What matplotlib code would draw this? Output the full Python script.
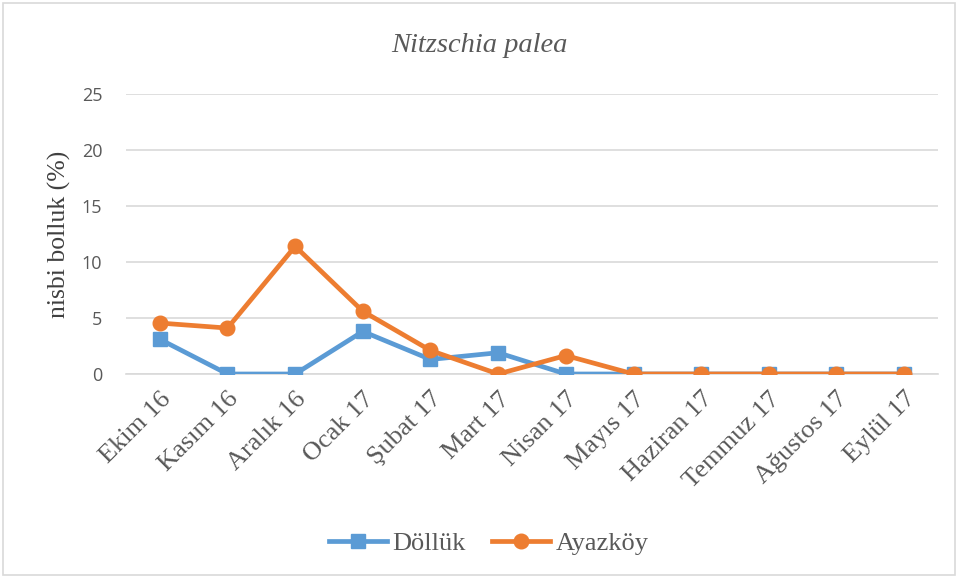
import matplotlib
matplotlib.use('Agg')
from matplotlib import pyplot as plt
from matplotlib.patches import Rectangle

#  data
months = ['Ekim 16', 'Kasım 16', 'Aralık 16', 'Ocak 17', 'Şubat 17', 'Mart 17',
          'Nisan 17', 'Mayıs 17', 'Haziran 17', 'Temmuz 17', 'Ağustos 17', 'Eylül 17']
dolluk = [3.1, 0, 0, 3.8, 1.3, 1.9, 0, 0, 0, 0, 0, 0]
ayazkoy = [4.55, 4.1, 11.4, 5.6, 2.1, 0, 1.65, 0, 0, 0, 0, 0]
yticks = [0, 5, 10, 15, 20, 25]

plt.rcParams['font.family'] = 'serif'
plt.rcParams['font.serif'] = ['Liberation Serif', 'DejaVu Serif']
txt = '#595959'

fig = plt.figure(figsize=(9.58, 5.78), dpi=100)
ax = fig.add_axes([126 / 958, 1 - 374 / 578, (938 - 126) / 958, (374 - 94) / 578])

x = list(range(len(months)))
ax.plot(x, dolluk, color='#5B9BD5', lw=3.4, marker='s', ms=10, label='Döllük', zorder=3)
ax.plot(x, ayazkoy, color='#ED7D31', lw=3.4, marker='o', ms=10.5, label='Ayazköy', zorder=4)

ax.set_xlim(-0.5, len(months) - 0.5)
ax.set_ylim(0, 25)
ax.set_yticks(yticks)
ax.set_yticklabels([str(v) for v in yticks], fontfamily='Open Sans', fontsize=13, color=txt)
ax.set_xticks(x)
ax.set_xticklabels(months, rotation=45, ha='right', rotation_mode='anchor',
                   fontsize=19, color=txt)
ax.tick_params(axis='both', length=0)
ax.tick_params(axis='x', pad=10)
ax.tick_params(axis='y', pad=17)
ax.grid(axis='y', color='#D9D9D9', lw=1.2)
ax.set_axisbelow(True)
for s in ['top', 'right', 'left']:
    ax.spines[s].set_visible(False)
ax.spines['bottom'].set_color('#D9D9D9')
ax.spines['bottom'].set_linewidth(1.2)
ax.set_ylabel('nisbi bolluk (%)', fontsize=18.5, color='#404040', labelpad=8)

fig.text(0.5, 1 - 45 / 578, 'Nitzschia palea', ha='center', va='center',
         fontsize=20.5, style='italic', color=txt)

fig.legend(loc='center', bbox_to_anchor=(0.5 + 10 / 958, 1 - 543 / 578), ncol=2, frameon=False,
           fontsize=19, labelcolor=txt,
           handlelength=2.2, columnspacing=1.0, handletextpad=0.2)

fig.patches.append(Rectangle((3 / 958, 3 / 578), 952 / 958, 572 / 578, transform=fig.transFigure,
                             fill=False, edgecolor='#D9D9D9', lw=1.2))

fig.savefig('out.png', dpi=100)
